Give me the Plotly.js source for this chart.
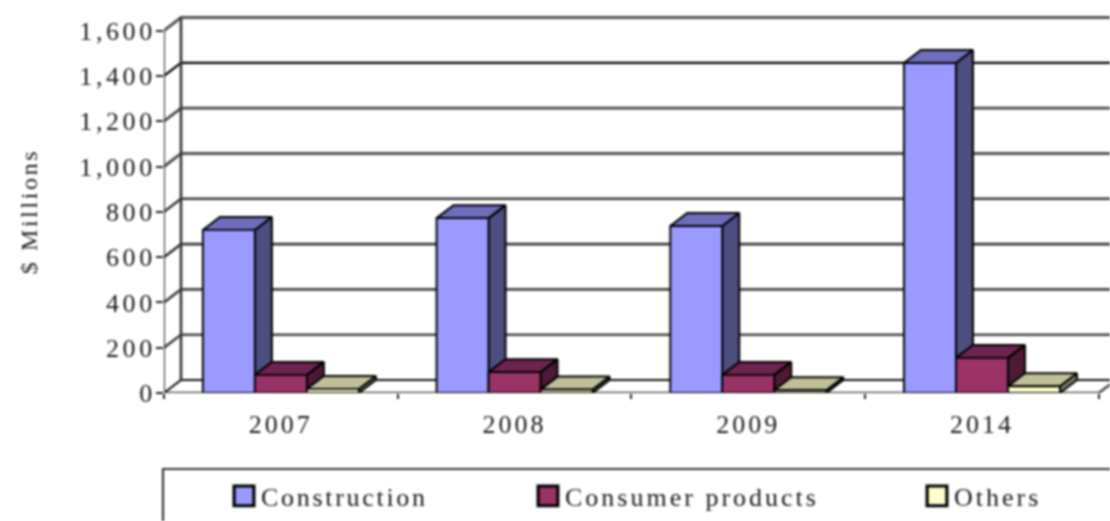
<!DOCTYPE html>
<html><head><meta charset="utf-8">
<script src="https://cdn.plot.ly/plotly-3.0.1.min.js"></script>
<style>
html,body{margin:0;padding:0;background:#fff;overflow:hidden}
#plot{width:1110px;height:521px;filter:blur(0.8px)}
#plot text{letter-spacing:3px}
#plot .ytick text{letter-spacing:3.6px}
#plot .legendtext{letter-spacing:2.7px}
#plot .legendpoints path{transform:translate(23px,0) scale(1.65)}
#plot .g-ytitle{transform:translateY(10px)}
#plot .g-ytitle text{letter-spacing:2.6px}
</style></head><body><div id="plot"></div>
<script>
const categories=['2007','2008','2009','2014'];
const construction=[720,772,737,1457];
const consumerProducts=[80,92,80,155];
const others=[18,15,12,30];
const seriesNames=['Construction','Consumer products','Others'];
const frontColors=['#9999FF','#993366','#FFFFCC'];
const sideColors=['#4D4D80','#4D1A33','#808066'];
const topColors=['#6D6DBB','#6E2350','#BFBF99'];
const yTicks=[0,200,400,600,800,1000,1200,1400,1600];
const catPos=[0.5,1.5,2.5,3.5];
const catEdges=[0,1,2,3,4];
const gridColors=['#111','#444','#444','#3a3a3a','#3a3a3a','#555','#4a4a4a','#000','#555'];
const gridWidths=[2,2.6,2.6,2.6,2.6,3,2.8,2.2,3];

const L=164,T=10,B=128,W=1110,H=521,plotW=W-L,plotH=H-T-B;
const catPx=233.7,valPx=0.2265;
const xMax=plotW/catPx,yMax=plotH/valPx;
const dX=17/catPx,dY=13/valPx;
const barW=52/catPx;
const ink='#222';

function seg(xs,ys,x,y){xs.push(...x,null);ys.push(...y,null);}
const traces=[];
yTicks.forEach((v,i)=>{
  traces.push({x:[0,dX,xMax],y:[v,v+dY,v+dY],mode:'lines',line:{color:gridColors[i],width:gridWidths[i]},showlegend:false,hoverinfo:'skip',cliponaxis:false});
});
traces.push({x:[dX,dX],y:[dY,1600+dY],mode:'lines',line:{color:'#333',width:2.6},showlegend:false,hoverinfo:'skip',cliponaxis:false});
traces.push({x:[0,0],y:[0,1600],mode:'lines',line:{color:'#111',width:1.8},showlegend:false,hoverinfo:'skip',cliponaxis:false});
traces.push({x:[0,4,4+dX],y:[0,0,dY],mode:'lines',line:{color:'#444',width:2.4},showlegend:false,hoverinfo:'skip',cliponaxis:false});
[construction,consumerProducts,others].forEach((vals,s)=>{
  const sx=[],sy=[],tx=[],ty=[];
  vals.forEach((v,i)=>{
    const x0=catPos[i]+(s-1.5)*barW,x1=x0+barW;
    seg(sx,sy,[x1,x1+dX,x1+dX,x1,x1],[0,dY,v+dY,v,0]);
    seg(tx,ty,[x0,x0+dX,x1+dX,x1,x0],[v,v+dY,v+dY,v,v]);
  });
  traces.push({x:sx,y:sy,mode:'lines',fill:'toself',fillcolor:sideColors[s],line:{color:'#000',width:2},showlegend:false,hoverinfo:'skip',cliponaxis:false});
  traces.push({x:tx,y:ty,mode:'lines',fill:'toself',fillcolor:topColors[s],line:{color:'#000',width:2},showlegend:false,hoverinfo:'skip',cliponaxis:false});
});
[construction,consumerProducts,others].forEach((vals,s)=>{
  traces.push({type:'bar',x:catPos,y:vals,name:seriesNames[s],xaxis:'x2',yaxis:'y2',
    legend:['legend','legend2','legend3'][s],
    marker:{color:frontColors[s],line:{color:'#000',width:1.9}},cliponaxis:false});
});
const fontFam='"Liberation Serif",serif';
const txt='#1a1a1a';
const pxX=p=>(p-L)/plotW, pxY=p=>(H-B-p)/plotH;
const legendBase={orientation:'h',yanchor:'middle',xanchor:'left',y:pxY(496),bgcolor:'rgba(0,0,0,0)',borderwidth:0,
  font:{family:fontFam,size:26,color:txt},itemclick:false,itemdoubleclick:false,entrywidthmode:'pixels'};
const layout={
  width:W,height:H,margin:{l:L,r:0,t:T,b:B,pad:0},paper_bgcolor:'#fff',plot_bgcolor:'#fff',
  font:{family:fontFam,size:26,color:txt},
  barmode:'group',bargap:1-3*barW,bargroupgap:0,hovermode:false,
  xaxis:{range:[0,xMax],tickmode:'array',tickvals:catPos,ticktext:categories,ticks:'',ticklabelstandoff:13,showgrid:false,zeroline:false,showline:false,
    minor:{tickmode:'array',tickvals:catEdges,ticks:'outside',ticklen:5,tickwidth:1.8,tickcolor:ink,showgrid:false},
    tickfont:{family:fontFam,size:26,color:txt}},
  yaxis:{range:[0,yMax],tickmode:'array',tickvals:yTicks,tickformat:',',ticks:'outside',ticklen:7,tickwidth:1.8,tickcolor:ink,showgrid:false,zeroline:false,showline:false,
    ticklabelstandoff:-5,tickfont:{family:fontFam,size:26,color:txt},
    title:{text:'$ Millions',standoff:52,font:{family:fontFam,size:24,color:txt}}},
  xaxis2:{overlaying:'x',range:[0,xMax],visible:false,anchor:'y2'},
  yaxis2:{overlaying:'y',range:[0,yMax],visible:false,anchor:'x2'},
  legend:Object.assign({},legendBase,{x:pxX(221),entrywidth:220}),
  legend2:Object.assign({},legendBase,{x:pxX(525),entrywidth:320}),
  legend3:Object.assign({},legendBase,{x:pxX(914),entrywidth:120}),
  shapes:[{type:'rect',xref:'paper',yref:'paper',x0:pxX(163),x1:1.1,y0:pxY(469),y1:pxY(560),line:{color:'#333',width:2.2},fillcolor:'rgba(0,0,0,0)',layer:'below'}]
};
Plotly.newPlot('plot',traces,layout,{displayModeBar:false,responsive:false});
</script></body></html>
